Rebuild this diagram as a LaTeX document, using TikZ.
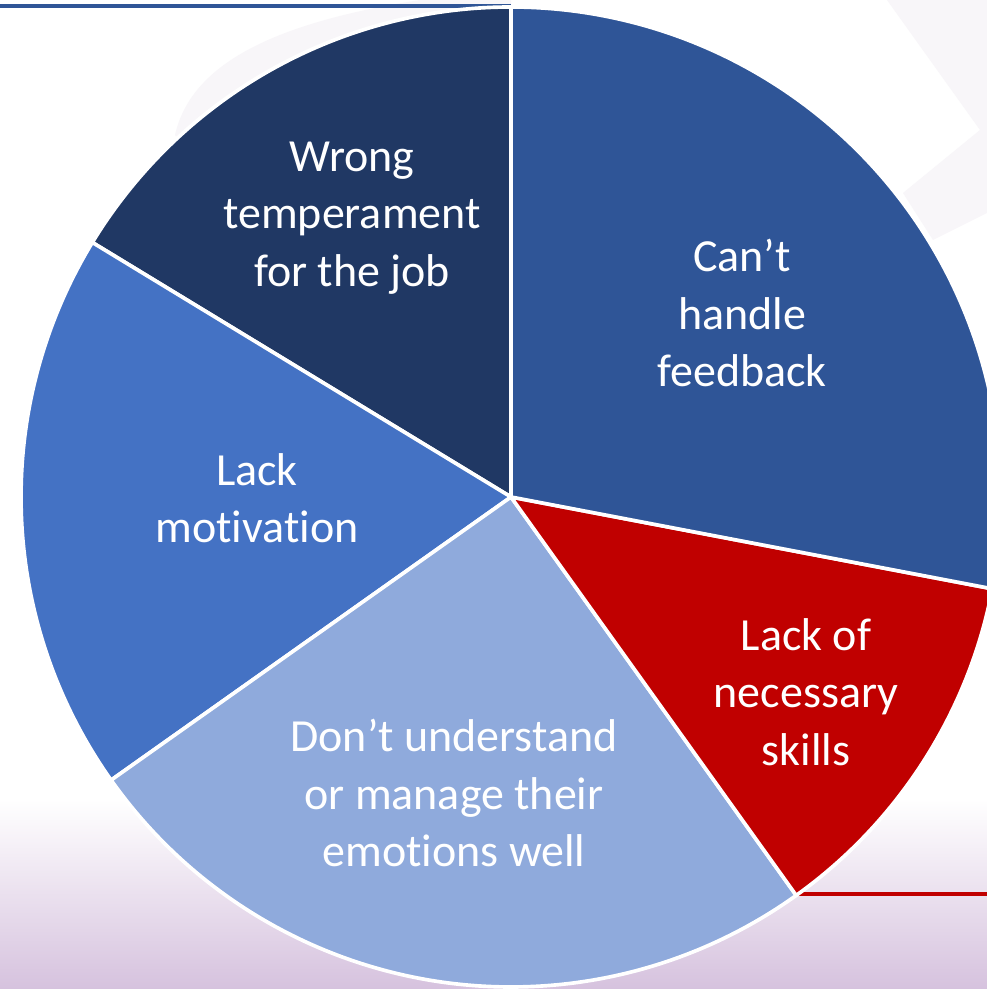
\documentclass[tikz,border=0pt]{standalone}
\usepackage{fontspec}
\setmainfont{Carlito}[Ligatures={TeX,NoCommon}]
\usepackage{tikz}
\definecolor{pie-navy}{HTML}{203864}
\definecolor{pie-blue}{HTML}{2F5597}
\definecolor{pie-mid}{HTML}{4472C4}
\definecolor{pie-light}{HTML}{8FAADC}
\definecolor{pie-red}{HTML}{C00000}
\definecolor{faint}{RGB}{248,246,249}
\definecolor{lavender}{RGB}{214,194,222}
\tikzset{
    pie-edge/.style = {draw=white, line width=2.6pt, line join=round},
    pie-label/.style = {text=white, align=center, font=\fontsize{32.7}{40.9}\selectfont},
    rule-line/.style = {line width=2.2pt},
}

\begin{document}
\begin{tikzpicture}[x=0.025cm, y=0.025cm]
\clip (0,0) rectangle (987,989);
\fill[white] (0,0) rectangle (987,989);
\fill[faint] (887,989) -- (987,989) -- (987,776) -- (933,749) -- (903,796) -- (980,859) -- cycle;
\fill[faint] (175,854) .. controls (190,919) and (260,964) .. (420,989) -- (511,989) -- (511,492) -- cycle;
\shade[top color=white, bottom color=lavender] (0,0) rectangle (987,190);
\coordinate (centre) at (511,492);
\coordinate (top-end) at (0,983);
\coordinate (red-start) at (798,95);
\draw[rule-line, pie-blue] (top-end) -- (top-end -| centre);
\draw[rule-line, pie-red] (red-start) -- (987,95);
\foreach \start/\stop/\col in {90/148.7/pie-navy, 148.7/215.3/pie-mid, 215.3/305.6/pie-light, 305.6/349.2/pie-red, 349.2/450/pie-blue}
    \filldraw[pie-edge, fill=\col] (centre) -- ++(\start:490) arc[start angle=\start, end angle=\stop, radius=490] -- cycle;
\node[pie-label] (temperament) at (352,771) {Wrong\\temperament\\for the job};
\node[pie-label] (feedback) at (742,676) {Can’t\\handle\\feedback};
\node[pie-label] (motivation) at (257,491) {Lack\\motivation};
\node[pie-label] (emotions) at (454,196) {Don’t understand\\or manage their\\emotions well};
\node[pie-label] (skills) at (806,297) {Lack of\\necessary\\skills};
\end{tikzpicture}
\end{document}
